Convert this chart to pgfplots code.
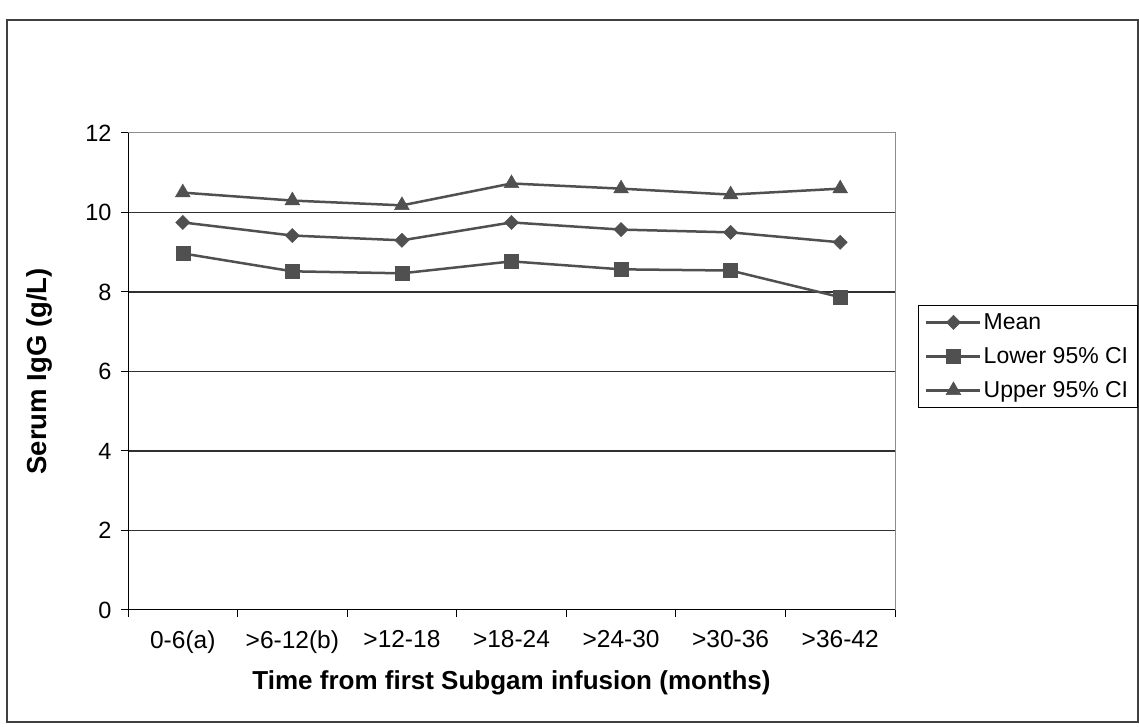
\documentclass[border=0pt]{standalone}
\usepackage{pgfplots}
\pgfplotsset{compat=1.18}
\usepackage{fontspec}
\setmainfont{Liberation Sans}
\definecolor{ser}{HTML}{505050}
\definecolor{grd}{HTML}{303030}
\begin{document}
\begin{tikzpicture}[font=\fontsize{24.5}{29}\selectfont]
\path[use as bounding box] (0,0) rectangle (1139pt,727pt);
\draw[black!75, line width=1.2pt] (7pt,5pt) rectangle (1138pt,707pt);
\begin{axis}[
  at={(128pt,117pt)}, anchor=south west,
  scale only axis, width=767pt, height=477pt,
  xmin=-0.5, xmax=6.5, ymin=0, ymax=12,
  xtick={0,...,6},
  xticklabels={0-6(a),>6-12(b),>12-18,>18-24,>24-30,>30-36,>36-42},
  ytick={0,2,...,12},
  extra y ticks={2,4,6,8,10},
  extra y tick labels={},
  extra y tick style={ymajorgrids=true, major tick length=0pt},
  major grid style={grd, line width=1.2pt},
  minor xtick={-0.5,0.5,...,6.5},
  major x tick style={draw=none},
  xtick pos=bottom, ytick pos=left,
  tick align=outside,
  tick style={black, line width=1pt},
  minor tick length=7pt, major tick length=7pt,
  axis line style={black!45, line width=1pt},
  xticklabel style={yshift=-10pt},
  yticklabel style={xshift=-6pt, font=\fontsize{23.5}{28}\selectfont},
  /pgf/number format/assume math mode=true,
  xlabel={\bfseries Time from first Subgam infusion (months)},
  ylabel={\bfseries Serum IgG (g/L)},
  xlabel style={at={(axis description cs:0.5,-0.152)}, anchor=center, font=\fontsize{26}{30}\selectfont},
  ylabel style={at={(axis description cs:-0.115,0.5)}, anchor=center, font=\fontsize{27.5}{31}\selectfont},
  legend cell align=left,
  legend style={at={(1.030,0.639)}, anchor=north west, draw=black,
    inner xsep=7pt, inner ysep=6pt, row sep=12pt,
    font=\fontsize{23}{28}\selectfont,
    cells={inner sep=2pt, text height=16.5pt, text depth=5pt},
    /tikz/every even column/.append style={column sep=1pt}},
  legend image code/.code={\draw[mark repeat=2, mark phase=2, line width=2.5pt]
    plot coordinates {(0pt,0pt) (27pt,0pt) (54pt,0pt)};},
]
\addplot[color=ser, line width=2.5pt, mark=square*, mark size=5pt,
  mark options={solid, fill=ser, rotate=45, line width=0.5pt}] coordinates {
  (0,9.75) (1,9.42) (2,9.30) (3,9.75) (4,9.57) (5,9.50) (6,9.25)};
\addlegendentry{Mean}
\addplot[color=ser, line width=2.5pt, mark=square*, mark size=7pt,
  mark options={solid, fill=ser, line width=0.5pt}] coordinates {
  (0,8.97) (1,8.52) (2,8.47) (3,8.77) (4,8.57) (5,8.54) (6,7.87)};
\addlegendentry{Lower 95\% CI}
\addplot[color=ser, line width=2.5pt, mark=triangle*, mark size=8.5pt,
  mark options={solid, fill=ser, line width=0.5pt}] coordinates {
  (0,10.50) (1,10.30) (2,10.18) (3,10.73) (4,10.60) (5,10.45) (6,10.60)};
\addlegendentry{Upper 95\% CI}
\draw[black, line width=1.2pt] (rel axis cs:0,1) -- (rel axis cs:0,0) -- (rel axis cs:1,0);
\end{axis}
\end{tikzpicture}
\end{document}
